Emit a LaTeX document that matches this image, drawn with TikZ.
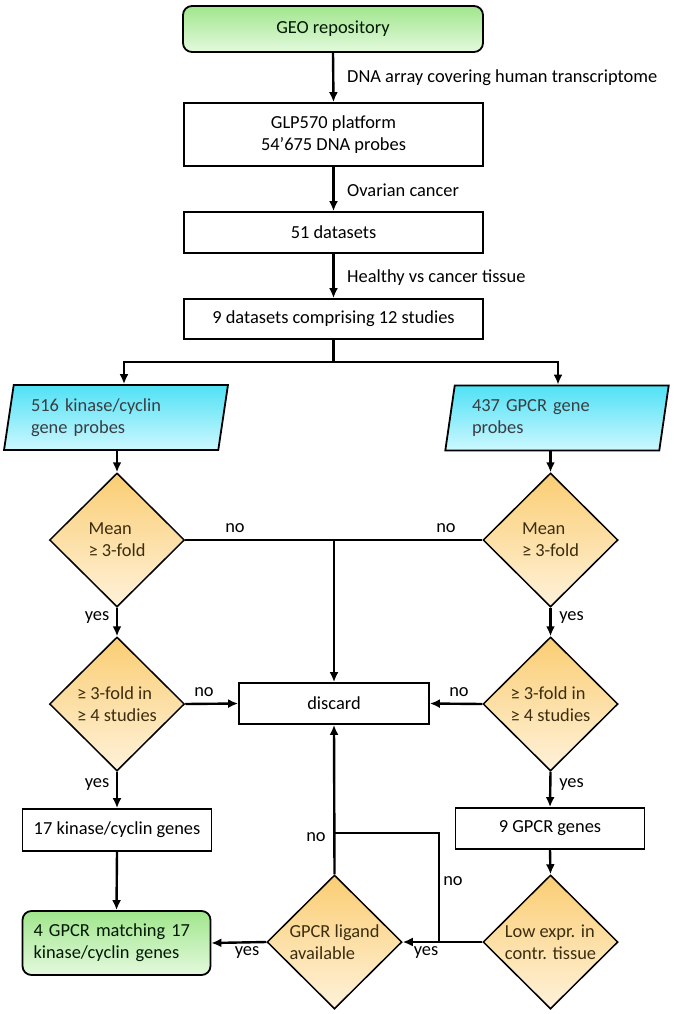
\documentclass[tikz,border=0pt]{standalone}
\usepackage{fontspec}
\setmainfont{Carlito}
\usetikzlibrary{shapes.geometric,arrows.meta}
\definecolor{gtop}{RGB}{160,230,140}
\definecolor{gbot}{RGB}{228,249,222}
\definecolor{ctop}{RGB}{80,225,245}
\definecolor{cbot}{RGB}{205,248,255}
\definecolor{otop}{RGB}{250,205,115}
\definecolor{obot}{RGB}{255,242,218}
\definecolor{dtext}{RGB}{60,45,15}
\begin{document}
\begin{tikzpicture}[x=1pt,y=-1pt,
  font=\fontsize{18.4}{22}\selectfont,
  box/.style={draw=black,line width=1.8pt,fill=white,rectangle,minimum width=#1,inner sep=0pt},
  box/.default=299,
  startbox/.style={draw=black,line width=1.8pt,rectangle,rounded corners=9pt,top color=gtop,bottom color=gbot,inner sep=0pt,text=black!85!green!60!black},
  iobox/.style={draw=black,line width=1.8pt,trapezium,trapezium left angle=78,trapezium right angle=102,trapezium stretches=true,minimum width=224,minimum height=65,top color=ctop,bottom color=cbot,text width=170,align=left,inner sep=0pt,text=black!85!cyan},
  decision/.style={draw=black,line width=1.5pt,diamond,minimum width=135,minimum height=134,inner sep=0pt,top color=otop,bottom color=obot,align=left,text=dtext},
  conn/.style={line width=2.4pt,-{Latex[length=10pt,width=9pt]}},
  plain/.style={line width=2.4pt},
  lab/.style={inner sep=0pt}
]
\useasboundingbox (0,0) rectangle (674,1014);

% nodes
\node[startbox,minimum width=300,minimum height=46] (geo) at (333,29) {GEO repository};
\node[box,minimum height=63,align=center] (glp) at (333.5,134.5) {GLP570 platform\\54’675 DNA probes};
\node[box,minimum height=41] (d51) at (333.5,232.5) {51 datasets};
\node[box,minimum height=40] (nine) at (333.5,319) {9 datasets comprising 12 studies};
\node[iobox] (kin) at (116,417.5) {516 kinase/cyclin\\gene probes};
\node[iobox] (gpcr) at (557,418) {437 GPCR gene\\probes};
\node[decision] (m1) at (117,540) {Mean\\≥ 3-fold};
\node[decision] (m2) at (550.5,540) {Mean\\≥ 3-fold};
\node[decision] (f1) at (117,704) {≥ 3-fold in\\≥ 4 studies};
\node[decision] (f2) at (550.5,704) {≥ 3-fold in\\≥ 4 studies};
\node[box=190,minimum height=41] (discard) at (334,703.5) {discard};
\node[box=189,minimum height=42] (k17) at (117,830) {17 kinase/cyclin genes};
\node[box=189,minimum height=41] (g9) at (550,828.5) {9 GPCR genes};
\node[startbox,minimum width=188,minimum height=64,text width=166,align=left] (res) at (116.5,943) {4 GPCR matching 17\\kinase/cyclin genes};
\node[decision] (lig) at (334.5,942) {GPCR ligand\\available};
\node[decision] (low) at (550.5,942) {Low expr. in\\contr. tissue};

% coordinates
\coordinate (split) at (333.5,362);
\coordinate (bl) at (124,362);
\coordinate (br) at (558,362);
\coordinate (j1) at (334,540);
\coordinate (nb) at (439,942);
\coordinate (nt) at (439,833);
\coordinate (nj) at (334.5,833);

% connectors
\draw[conn] (geo.south) -- (glp.north);
\node[lab,anchor=west] (l1) at (347,78) {DNA array covering human transcriptome};
\draw[conn] (glp.south) -- (d51.north);
\node[lab,anchor=west] (l2) at (347,190) {Ovarian cancer};
\draw[conn] (d51.south) -- (nine.north);
\node[lab,anchor=west] (l3) at (347,278) {Healthy vs cancer tissue};

\draw[plain] (nine.south) -- (split);
\draw[plain,line cap=rect] (bl) -- (br);
\draw[conn] (bl) -- (bl |- kin.north);
\draw[conn] (br) -- (br |- gpcr.north);

\draw[conn] (kin.south -| m1.north) -- (m1.north);
\draw[conn] (gpcr.south -| m2.north) -- (m2.north);

\draw[plain] (m1.east) -- (m2.west);
\draw[conn] (j1) -- (discard.north);
\node[lab] (n1) at (235,528) {no};
\node[lab] (n2) at (446,528) {no};

\draw[conn] (m1.south) -- (f1.north);
\node[lab] (y1) at (97,618) {yes};
\draw[conn] (m2.south) -- (f2.north);
\node[lab] (y2) at (571.5,618) {yes};

\draw[conn] (f1.east) -- (discard.west);
\node[lab] (n3) at (204,692) {no};
\draw[conn] (f2.west) -- (discard.east);
\node[lab] (n4) at (459,692) {no};

\draw[conn] (f1.south) -- (k17.north);
\node[lab] (y3) at (97,785) {yes};
\draw[conn] (f2.south) -- (g9.north);
\node[lab] (y4) at (571.5,785) {yes};

\draw[conn] (k17.south) -- (res.north);
\draw[conn] (g9.south) -- (low.north);

\draw[conn] (low.west) -- (lig.east);
\node[lab] (y5) at (426,953) {yes};
\draw[plain,line join=miter] (nb) -- (nt) -- (nj);
\node[lab] (n5) at (453,881) {no};
\draw[conn] (lig.north) -- (discard.south);
\node[lab] (n6) at (316,837) {no};
\draw[conn] (lig.west) -- (res.east);
\node[lab] (y6) at (247,953) {yes};
\end{tikzpicture}
\end{document}
